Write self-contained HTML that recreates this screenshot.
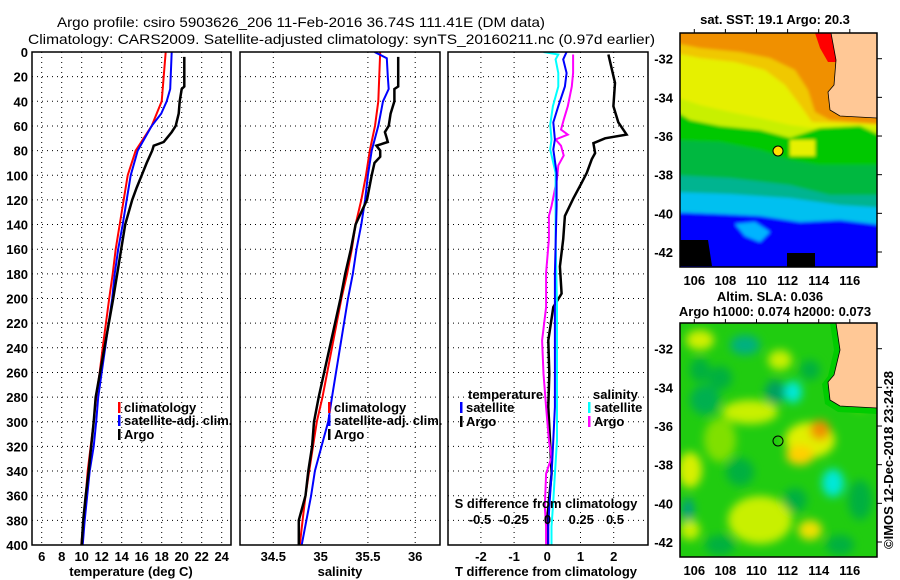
<!DOCTYPE html>
<html><head><meta charset="utf-8"><style>
body{margin:0;background:#fff}
svg{display:block;font-family:"Liberation Sans",sans-serif}
.t{font-size:13px;font-weight:bold}
</style></head><body>
<svg id="fig" width="900" height="580" viewBox="0 0 900 580" xmlns="http://www.w3.org/2000/svg">
<defs>
<filter id="blur" x="-50%" y="-50%" width="200%" height="200%"><feGaussianBlur stdDeviation="4.5"/></filter>
<filter id="blur2" x="-20%" y="-20%" width="140%" height="140%"><feGaussianBlur stdDeviation="1.5"/></filter>
<clipPath id="c1"><rect x="32" y="52" width="199" height="493"/></clipPath>
<clipPath id="c2"><rect x="240" y="52" width="200" height="493"/></clipPath>
<clipPath id="c3"><rect x="448" y="52" width="200" height="493"/></clipPath>
<clipPath id="m1"><rect x="680" y="33" width="197" height="234"/></clipPath>
<clipPath id="m2"><rect x="680" y="323" width="197" height="234"/></clipPath>
</defs>
<text x="57" y="27" font-size="14" textLength="488" lengthAdjust="spacingAndGlyphs">Argo profile: csiro 5903626_206 11-Feb-2016 36.74S 111.41E (DM data)</text>
<text x="28" y="44" font-size="14" textLength="627" lengthAdjust="spacingAndGlyphs">Climatology: CARS2009. Satellite-adjusted climatology: synTS_20160211.nc (0.97d earlier)</text>
<g id="g"></g>
</svg>
<script>
// ---------- data ----------
const tempDepthClim = [0,40,60,70,80,100,120,140,160,180,200,240,260,280,300,320,340,360,380,400];
const tempClim = [18.4,18.0,17.0,16.2,15.4,14.6,14.2,13.8,13.4,13.1,12.75,12.1,11.8,11.45,11.2,10.9,10.6,10.4,10.2,9.95];
const tempDepthSat = [0,20,30,40,50,60,80,100,120,140,160,180,200,280,300,320,340,360,380,400];
const tempSat = [19.0,18.9,18.85,18.5,17.95,17.0,15.6,14.9,14.5,14.1,13.65,13.3,13.05,11.65,11.45,11.2,10.8,10.55,10.3,10.1];
const tempDepthArgo = [4,28,30,40,50,60,65,70,73,76,80,90,100,110,120,130,140,160,180,200,280,300,320,340,360,380,400];
const tempArgo = [20.26,20.26,20.0,19.8,19.7,19.4,19.0,18.5,18.2,17.2,17.05,16.5,16.0,15.5,15.05,14.7,14.35,13.95,13.55,13.15,11.4,11.2,10.95,10.7,10.4,10.15,10.0];

const salDepthClim = [0,40,60,80,100,120,140,160,180,200,280,300,320,340,360,380,400];
const salClim = [35.63,35.61,35.575,35.52,35.48,35.43,35.37,35.33,35.28,35.22,35.02,34.96,34.92,34.88,34.84,34.81,34.78];
const salDepthSat = [0,5,20,30,40,60,80,100,120,140,160,180,200,280,300,320,340,360,380,400];
const salSat = [35.57,35.70,35.71,35.72,35.66,35.61,35.54,35.50,35.47,35.43,35.38,35.34,35.29,35.12,35.08,35.01,34.94,34.90,34.85,34.80];
const salDepthArgo = [4,28,30,40,50,60,65,70,73,76,80,85,90,100,120,135,140,160,180,200,280,300,320,340,360,380,400];
const salArgo = [35.82,35.82,35.78,35.78,35.74,35.72,35.68,35.70,35.71,35.59,35.63,35.63,35.57,35.54,35.49,35.40,35.37,35.32,35.26,35.21,34.98,34.93,34.91,34.87,34.84,34.77,34.77];

const dTArgoDepth = [2,25,44,57,67,70,74,82,87,98,106,119,133,152,174,196,207,234,261,288,315,342,369,385,400];
const dTArgo = [1.84,2.04,1.99,2.14,2.39,1.74,1.39,1.44,1.34,1.19,1.04,0.78,0.53,0.48,0.38,0.43,0.18,0.03,0.06,0.03,0.08,0.13,0.03,-0.02,-0.02];
const dTSatDepth = [0,6,17,28,44,57,71,79,98,125,179,234,288,315,342,369,385,400];
const dTSat = [0.58,0.48,0.58,0.53,0.33,0.18,0.23,0.18,0.28,0.28,0.23,0.23,0.23,0.18,0.13,0.06,0.03,0.03];
const dSSatDepth = [0,2,6,17,28,44,59,71,79,98,152,207,261,315,369,385,400];
const dSSat = [-0.03,0.08,0.06,0.08,0.08,0.04,0.02,0.03,0.02,0.06,0.06,0.07,0.07,0.07,0.04,0.03,0.03];
const dSArgoDepth = [2,17,28,44,55,63,67,71,76,84,92,103,125,133,152,179,207,234,261,288,315,329,342,369,385,400];
const dSArgo = [0.19,0.19,0.18,0.15,0.12,0.10,0.15,0.06,0.10,0.12,0.08,0.07,0.03,0.01,0.01,-0.01,-0.01,-0.04,-0.03,-0.01,0.01,0.03,-0.01,-0.02,-0.01,-0.01];

const depthTicks = [0,20,40,60,80,100,120,140,160,180,200,220,240,260,280,300,320,340,360,380,400];
const tempTicks = [6,8,10,12,14,16,18,20,22,24];
const salTicks = [34.5,35,35.5,36];
const dTTicks = [-2,-1,0,1,2];
const dSTickLabels = ["-0.5","-0.25","0","0.25","0.5"];
const dSTicks = [-0.5,-0.25,0,0.25,0.5];
const lonTicks = [106,108,110,112,114,116];
const latTicks = [-32,-34,-36,-38,-40,-42];

// ---------- axes ----------
const y = d => 52 + d*1.2325;
const xT = t => 41.7 + (t-6)*10;
const xS = s => 273.3 + (s-34.5)*94.6;
const xD = d => 547.3 + d*33.2;
const xDS = s => 547.5 + s*135;
const lonX = l => 694.3 + (l-106)*15.55;
const latY = l => 58.7 + (-32-l)*19.33;

const NS = "http://www.w3.org/2000/svg";
const G = document.getElementById('g');
function mk(tag, attrs, parent){
  const e = document.createElementNS(NS, tag);
  for (const k in attrs) e.setAttribute(k, attrs[k]);
  (parent||G).appendChild(e);
  return e;
}
function txt(x,yy,s,anchor,cls,parent){
  const e = mk('text',{x:x,y:yy,'text-anchor':anchor||'middle','class':cls||'t'},parent);
  e.textContent = s; return e;
}

function panel(x0,w,clip,name){
  const g = mk('g',{});
  
  
  const gr = mk('g',{stroke:'#000','stroke-width':1,'stroke-dasharray':'1,4'},g);
  depthTicks.slice(1,-1).forEach(d=>{
    const l = mk('line',{x1:x0,x2:x0+w,y1:y(d),y2:y(d)},gr);
    
    
  });
  return {g,gr};
}
function vgrid(gr, xs){
  xs.forEach(x=>{
    const l = mk('line',{x1:x,x2:x,y1:52,y2:545},gr);
    
    
  });
}
function series(depths, vals, xf, color, w, clip, name){
  const pts = depths.map((d,i)=> xf(vals[i]).toFixed(1)+','+y(d).toFixed(1)).join(' ');
  const p = mk('polyline',{points:pts,fill:'none',stroke:color,'stroke-width':w,'clip-path':'url(#'+clip+')','stroke-linejoin':'miter'});
  
  
}
function frame(x,w,name){
  const r = mk('rect',{x:x,y:52,width:w,height:493,fill:'none',stroke:'#000','stroke-width':1.5});
  
  
}

// panel 1
let p1 = panel(32,199,'c1','temperature-panel');
vgrid(p1.gr, tempTicks.map(xT));
series(tempDepthClim,tempClim,xT,'#f00',2,'c1','temp-climatology-line');
series(tempDepthSat,tempSat,xT,'#00f',2,'c1','temp-satellite-line');
series(tempDepthArgo,tempArgo,xT,'#000',2.5,'c1','temp-argo-line');
frame(32,199,'temperature-axes-frame');
depthTicks.forEach(d=>{
  const t = txt(28,y(d)+5,String(d),'end');
  
  
});
tempTicks.forEach(v=>{
  const t = txt(xT(v),561,String(v));
  
  
});
let lab = txt(131,576,'temperature (deg C)');



// panel 2
let p2 = panel(240,200,'c2','salinity-panel');
vgrid(p2.gr, salTicks.map(xS));
series(salDepthClim,salClim,xS,'#f00',2,'c2','sal-climatology-line');
series(salDepthSat,salSat,xS,'#00f',2,'c2','sal-satellite-line');
series(salDepthArgo,salArgo,xS,'#000',2.5,'c2','sal-argo-line');
frame(240,200,'salinity-axes-frame');
salTicks.forEach(v=>{
  const t = txt(xS(v),561,String(v));
  
  
});
lab = txt(340,576,'salinity');



// panel 3
let p3 = panel(448,200,'c3','difference-panel');
vgrid(p3.gr, dTTicks.map(xD));
series(dTArgoDepth,dTArgo,xD,'#000',2.5,'c3','dT-argo-line');
series(dSArgoDepth,dSArgo,xDS,'#f0f',2,'c3','dS-argo-line');
series(dSSatDepth,dSSat,xDS,'#0ff',2,'c3','dS-satellite-line');
series(dTSatDepth,dTSat,xD,'#00f',2,'c3','dT-satellite-line');
frame(448,200,'difference-axes-frame');
dTTicks.forEach(v=>{
  const t = txt(xD(v),561,String(v));
  
  
});
dSTicks.forEach((v,i)=>{
  const t = txt(xDS(v),524,dSTickLabels[i]);
  
  
});
lab = txt(546,508,'S difference from climatology');


lab = txt(546,576,'T difference from climatology');



// legends
function legItem(mx,ty,color,label,name){
  const r = mk('rect',{x:mx,y:ty-10,width:2.5,height:11,fill:color});
  
  
  const t = txt(mx+6,ty,label,'start');
  
  
}
legItem(118,412,'#f00','climatology','legend-climatology');
legItem(118,425,'#00f','satellite-adj. clim.','legend-satellite');
legItem(118,439,'#000','Argo','legend-argo');
legItem(328,412,'#f00','climatology','legend2-climatology');
legItem(328,425,'#00f','satellite-adj. clim.','legend2-satellite');
legItem(328,439,'#000','Argo','legend2-argo');
lab = txt(468,399,'temperature','start');


legItem(460,412,'#00f','satellite','legend-dT-satellite');
legItem(460,426,'#000','Argo','legend-dT-argo');
lab = txt(593,399,'salinity','start');


legItem(588,412,'#0ff','satellite','legend-dS-satellite');
legItem(588,426,'#f0f','Argo','legend-dS-argo');

// ---------- maps ----------
function mapAxes(yoff, name){
  const r = mk('rect',{x:680,y:33+yoff,width:197,height:234,fill:'none',stroke:'#000','stroke-width':1.5});
  
  
  lonTicks.forEach(l=>{
    mk('line',{x1:lonX(l),x2:lonX(l),y1:33+yoff,y2:29+yoff,stroke:'#000'});
    const t = txt(lonX(l),285+yoff,String(l));
    
    
  });
  latTicks.forEach(l=>{
    mk('line',{x1:877,x2:882,y1:latY(l)+yoff,y2:latY(l)+yoff,stroke:'#000'});
    const t = txt(673,latY(l)+yoff+5,String(l),'end');
    
    
  });
}
function poly(pts,fill,parent,name,extra){
  const p = mk('polygon',Object.assign({points:pts,fill:fill},extra||{}),parent);
  
  
  return p;
}
// SST map
const sst = mk('g',{'clip-path':'url(#m1)'});


const bands = mk('g',{filter:'url(#blur2)'},sst);
poly('670,25 890,25 890,280 670,280','#f09000',bands,'sst-orange');
poly('670,42 700,48 740,52 770,58 795,70 808,90 815,112 830,120 890,125 890,280 670,280','#f0c800',bands,'sst-yellow-orange');
poly('670,52 700,58 735,62 765,70 785,85 800,105 812,122 890,125 890,280 670,280','#e6f000',bands,'sst-yellow');
poly('670,95 700,105 730,112 760,118 790,125 812,128 860,125 890,130 890,280 670,280','#c8f000',bands,'sst-yellowgreen');
poly('670,108 690,120 720,126 760,130 790,138 820,128 860,126 890,140 890,280 670,280','#00c800',bands,'sst-green');
poly('670,140 720,142 760,150 790,160 820,165 850,165 890,165 890,280 670,280','#00b840',bands,'sst-darkgreen');
poly('790,140 815,140 815,156 790,156','#e6f000',bands,'sst-yellow-patch');
poly('670,175 730,178 790,185 830,195 890,195 890,280 670,280','#00b490',bands,'sst-teal');
poly('670,192 730,194 790,198 840,205 890,208 890,280 670,280','#00c0f0',bands,'sst-cyan');
poly('670,212 720,214 760,216 800,222 840,220 890,226 890,280 670,280','#0000ff',bands,'sst-blue');
poly('735,224 755,222 770,232 760,242 745,236','#00b4ff',bands,'sst-cyan-intrusion');
poly('680,240 708,240 712,266 680,266','#000',sst,'sst-black-1');
poly('787,253 815,253 815,267 787,267','#000',sst,'sst-black-2');
poly('815,33 838,33 842,62 828,62 820,48','#f00',sst,'sst-red');
poly('831,33 877,33 877,118 840,116 830,110 828,92 834,85 836,60','#ffc896',sst,'sst-land',{stroke:'#000','stroke-width':0.8});
const d1 = mk('circle',{cx:778,cy:151,r:5,fill:'#ffe000',stroke:'#000','stroke-width':1});


mapAxes(0,'sst-map');
lab = txt(775,24,'sat. SST: 19.1 Argo: 20.3');



// SLA map
const sla = mk('g',{'clip-path':'url(#m2)'});


mk('rect',{x:680,y:323,width:197,height:234,fill:'#20cc10'},sla);
const bl = mk('g',{filter:'url(#blur)'},sla);
const blobs = [
 [700,340,14,10,'#d0f000'],[780,360,12,10,'#c8f000'],[690,470,12,18,'#d8f000'],[750,412,28,12,'#c8f000'],
 [810,440,25,18,'#e0f000'],[820,430,10,10,'#f09000'],[800,455,14,10,'#ffd000'],[760,520,32,24,'#c8f000'],
 [810,530,12,10,'#f0e000'],[720,440,16,22,'#80e000'],[705,400,15,15,'#00b050'],[745,345,15,10,'#00b080'],
 [793,392,9,11,'#00e8d8'],[833,483,11,14,'#00e8d8'],[775,392,10,12,'#00a060'],[740,472,14,14,'#00b040'],
 [860,500,12,20,'#00b040'],[795,500,12,12,'#00b040'],[720,378,12,12,'#00b040'],[688,510,6,12,'#00a080'],
 [860,400,10,10,'#80e000'],[840,545,14,10,'#00b040'],[720,545,15,10,'#00b040'],[810,370,10,10,'#00b040'],
 [700,370,10,12,'#00b040'],[690,530,10,10,'#c8f000']
];
blobs.forEach(b=>{
  const e = mk('ellipse',{cx:b[0],cy:b[1],rx:b[2],ry:b[3],fill:b[4]},bl);
  
  
});
poly('830,323 877,323 877,414 838,412 825,404 822,384 828,376 834,350','#00cc00',sla,'sla-coastal-strip');
poly('836,323 877,323 877,408 840,406 830,400 828,382 834,375 840,350','#ffc896',sla,'sla-land',{stroke:'#000','stroke-width':0.8});
const d2 = mk('circle',{cx:778,cy:441,r:5,fill:'none',stroke:'#000','stroke-width':1});


mapAxes(290,'sla-map');
lab = txt(770,301,'Altim. SLA: 0.036');


lab = txt(775,316,'Argo h1000: 0.074 h2000: 0.073');


const cp = txt(0,0,'©IMOS 12-Dec-2018 23:24:28','middle');
cp.setAttribute('transform','translate(893,460) rotate(-90)');
cp.setAttribute('font-weight','normal');


</script>
</body></html>
